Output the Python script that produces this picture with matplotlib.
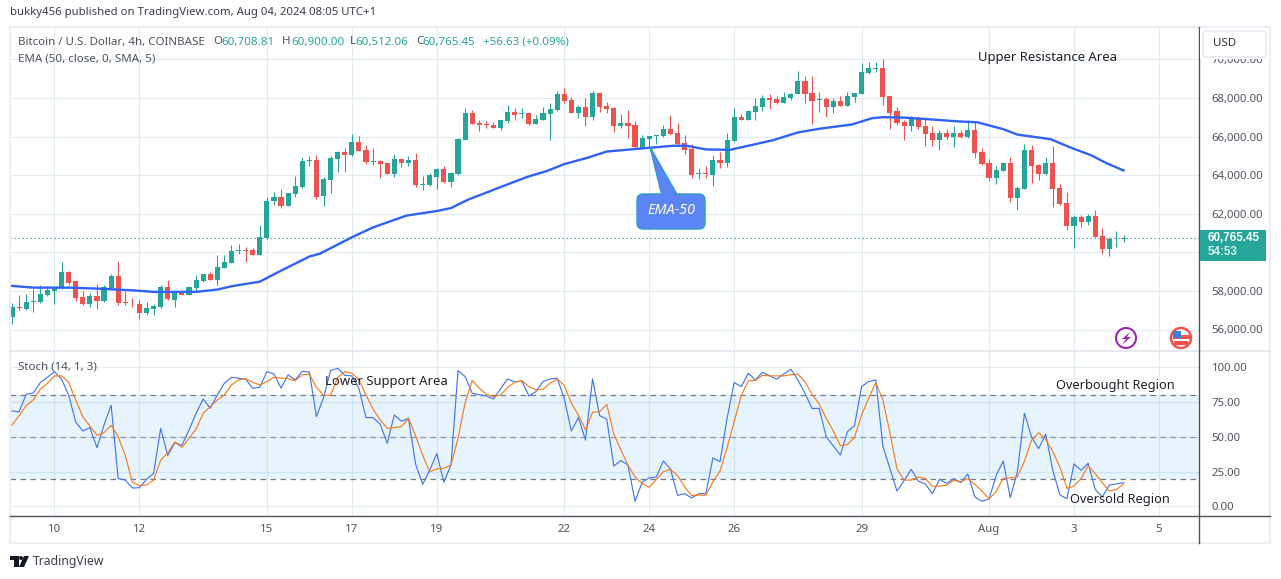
import matplotlib
matplotlib.use("Agg")
import matplotlib.pyplot as plt
from matplotlib.patches import Rectangle, FancyBboxPatch, Polygon, Circle
from matplotlib.transforms import Affine2D
import pandas as pd

W, H = 1281, 579
plt.rcParams['font.family'] = ['Noto Sans', 'DejaVu Sans']

GREEN = '#26a69a'
RED = '#ef5350'
GRID = '#e1ecf2'
TXT = '#50535e'

# open, high, low, close in thousands of USD, 4h bars from Jul 9 2024
ohlc = [
    (56.65,57.35,56.28,57.14),(57.15,57.78,57.03,57.10),(57.05,57.86,56.99,57.41),(57.41,58.12,56.90,57.47),
    (57.41,58.28,57.35,57.83),(57.78,58.24,57.76,58.03),(58.00,58.20,57.33,58.17),(58.17,59.48,58.12,58.97),
    (58.97,59.02,58.31,58.41),(58.50,58.55,57.48,57.64),(57.67,57.97,57.29,57.31),(57.31,57.90,57.17,57.72),
    (57.72,58.35,57.07,57.50),(57.47,58.29,57.45,58.20),(58.13,58.88,58.10,58.77),(58.77,59.53,57.27,57.36),
    (57.43,58.00,57.25,57.38),(57.34,57.62,57.14,57.31),(57.34,57.55,56.55,56.84),(56.84,57.41,56.76,57.09),
    (57.07,57.31,56.74,57.21),(57.16,58.29,57.12,58.19),(58.19,58.55,57.52,57.57),(57.53,57.95,57.17,57.91),
    (57.91,58.00,57.79,57.79),(57.81,58.24,57.79,58.19),(58.17,58.83,58.00,58.57),(58.52,58.90,58.48,58.88),
    (58.88,58.98,58.57,58.57),(58.57,59.86,58.31,59.24),(59.19,59.86,59.19,59.50),(59.45,60.38,59.45,60.07),
    (60.08,60.43,59.91,60.12),(60.12,60.28,59.50,60.09),(60.12,60.21,59.86,59.86),(59.86,61.41,59.86,60.79),
    (60.72,62.85,60.67,62.66),(62.66,63.12,62.45,62.86),(62.86,63.28,62.31,62.40),(62.40,63.07,62.40,63.07),
    (63.02,63.95,62.88,63.43),(63.38,64.93,63.33,64.72),(64.72,64.98,64.47,64.78),(64.78,65.03,62.76,62.86),
    (62.91,63.90,62.40,63.79),(63.74,64.98,63.07,64.88),(64.83,65.24,64.16,65.19),(65.19,65.40,64.16,65.03),
    (65.03,66.12,64.98,65.71),(65.71,66.02,65.24,65.24),(65.29,65.55,64.57,64.67),(64.67,65.40,64.52,64.71),
    (64.72,64.78,63.84,64.57),(64.62,64.67,64.05,64.05),(64.05,65.09,63.90,64.83),(64.83,64.88,64.41,64.62),
    (64.62,64.98,64.47,64.78),(64.78,65.14,63.38,63.48),(63.48,63.95,63.22,63.53),(63.48,64.09,63.43,64.00),
    (63.90,64.36,63.28,64.31),(64.31,64.47,63.59,63.64),(63.64,64.16,63.38,64.10),(64.05,65.91,64.00,65.86),
    (65.81,67.47,65.81,67.21),(67.21,67.36,66.64,66.64),(66.69,66.84,66.28,66.59),(66.64,66.79,66.43,66.59),
    (66.59,66.74,66.43,66.43),(66.43,66.84,66.33,66.84),(66.79,67.62,66.69,67.26),(67.26,67.47,66.84,67.10),
    (67.17,67.47,66.95,67.21),(67.21,67.26,66.59,66.64),(66.64,67.10,66.64,66.90),(66.84,67.52,66.84,67.21),
    (67.16,67.72,65.81,67.41),(67.36,68.34,67.31,68.19),(68.19,68.50,67.72,67.83),(67.88,68.03,67.21,67.21),
    (67.21,67.62,66.95,67.52),(67.52,67.98,66.53,67.00),(67.00,68.34,66.84,68.24),(68.24,68.29,67.26,67.52),
    (67.57,67.78,67.21,67.41),(67.47,67.52,66.22,66.53),(66.53,67.16,66.43,66.69),(66.69,67.36,65.91,66.53),
    (66.59,66.79,65.40,65.45),(65.43,66.07,65.43,65.91),(65.86,66.02,65.45,66.02),(66.03,66.07,65.60,66.07),
    (66.02,66.59,65.97,66.38),(66.38,67.10,66.07,66.12),(66.17,66.69,65.55,65.60),(65.66,66.07,65.09,65.29),
    (65.34,65.60,63.84,64.00),(64.07,64.36,63.79,64.10),(64.10,64.47,63.84,64.07),(64.00,65.03,63.43,64.78),
    (64.78,65.19,64.36,64.62),(64.62,66.17,64.41,65.81),(65.76,67.47,65.71,67.00),(67.00,67.16,66.84,66.84),
    (66.84,67.36,66.84,67.31),(67.26,67.98,66.84,67.57),(67.52,68.14,67.31,67.98),(67.98,68.19,67.41,67.88),
    (67.93,68.09,67.67,67.72),(67.72,68.29,67.72,68.03),(67.98,68.24,67.88,68.19),(68.19,69.38,68.19,68.86),
    (68.86,69.12,67.72,68.19),(68.24,69.12,66.64,67.83),(67.90,68.29,67.26,67.93),(67.93,68.03,67.00,67.52),
    (67.52,67.98,67.21,67.83),(67.83,68.09,67.57,67.57),(67.57,68.29,67.57,68.09),(68.03,68.24,67.78,68.24),
    (68.19,69.79,68.19,69.33),(69.28,69.84,69.22,69.53),(69.50,69.84,69.33,69.53),(69.53,70.00,67.62,68.03),
    (68.09,68.09,66.38,67.21),(67.31,67.52,66.59,66.69),(66.74,66.84,65.81,66.53),(66.53,67.05,66.28,66.90),
    (66.90,67.05,66.38,66.48),(66.53,66.90,65.50,66.12),(66.17,66.53,65.50,65.81),(65.81,66.33,65.29,66.17),
    (66.17,66.38,65.86,65.97),(65.97,66.53,65.45,66.17),(66.17,66.33,65.91,65.97),(65.97,66.84,65.91,66.33),
    (66.33,66.79,64.88,65.14),(65.19,65.40,64.52,64.57),(64.62,64.83,63.69,63.84),(63.84,64.47,63.53,64.26),
    (64.21,64.67,64.21,64.62),(64.62,64.93,62.60,62.81),(62.81,63.43,62.19,63.33),(63.28,65.60,63.28,65.29),
    (65.29,65.55,63.59,64.47),(64.52,64.57,63.74,64.05),(64.05,64.93,64.00,64.62),(64.62,65.50,62.34,63.28),
    (63.33,63.53,62.45,62.50),(62.55,63.12,61.15,61.36),(61.36,61.93,60.22,61.83),(61.83,61.93,61.31,61.57),
    (61.57,61.98,61.41,61.88),(61.88,62.19,60.79,60.79),(60.84,61.26,59.91,60.17),(60.17,60.79,59.81,60.69),
    (60.67,61.10,60.28,60.71),(60.709,60.90,60.512,60.765),
]
df = pd.DataFrame(ohlc, columns=['open', 'high', 'low', 'close']) * 1000

# EMA read at the bars where the curve bends
ema_bar = [0,3,8,12,17,20,26,29,31,35,38,42,43.5,48,51,55.7,60,62,64.3,69.5,72.8,75.6,78,81.3,84,88.9,
           93.4,95.3,98,101.4,104,107.5,111,114,118.6,121.5,123,126,130,133.7,136.3,140,142,146.7,149.5,152.4,154.7,157]
ema_val = [58.26,58.17,58.17,58.12,58.03,57.95,57.95,58.07,58.24,58.48,59.05,59.78,59.93,60.78,61.29,61.90,62.14,62.29,62.71,63.45,63.91,64.22,64.57,64.90,65.22,65.38,
           65.52,65.52,65.33,65.31,65.52,65.81,66.21,66.40,66.62,66.95,67.00,66.98,66.88,66.78,66.74,66.38,66.10,65.86,65.43,65.03,64.60,64.24]

stoch_k = [68.6,67.9,80.6,81.5,89,92.8,96.9,91.4,80.1,60.7,54.2,56.6,42.2,58.5,72.7,19.9,18.9,13.2,13.4,19.4,
           23.7,56.1,36.5,45.8,43.9,54.9,66.9,77.2,70.5,80.1,88.5,92.8,92.1,91.4,84.9,85.6,96.9,95.2,85.1,94.5,
           90.9,97.1,96.6,64.5,78.2,97.6,99.3,94.2,93.8,84.9,63.8,63.8,59.2,45.3,65.7,61.2,63.3,30.5,15.8,26.1,
           37.9,17.3,29.7,97.6,93.3,81.3,80.3,79.4,77.2,84.4,91.6,89.4,90.2,79.4,82.5,89.7,91.6,92.1,77.7,54.2,
           63.8,47.7,91.6,65.2,62.8,29,32.9,29.7,3.6,17.3,20.4,21.1,32.6,26.9,7.9,9.1,6,9.1,9.1,34.8,
           32.1,63.3,89,86.1,95.7,90.9,96.4,94,91.4,95.2,98.6,90.9,81.3,70.3,70.5,50.1,43.4,36.9,53.7,58,
           86.1,89.7,90.9,43.4,27.3,11,18.5,26.6,18.2,16.1,9.1,19.4,16.5,19.9,17,23.3,6.7,3.6,5.3,22.1,
           32.6,6.2,24.9,66.9,49.9,41.5,52,26.1,8.2,5.5,30.5,25.9,30.9,12.2,6.7,15.3,16.1,17]
stoch_d = [58.5,65.2,72.4,76.5,84.2,88.5,93.8,93.8,89.2,76.5,64.5,57.8,51.1,53,58.3,50.1,36.5,17.3,14.9,15.3,
           18.9,33.3,38.6,46.3,42.4,48.9,55.6,66.9,71.7,76.5,80.1,87.3,90.9,91.8,89.2,87.3,89.7,92.8,92.3,91.8,
           90.4,94.5,95.2,85.6,79.9,79.9,92.3,96.9,95.7,90.9,80.1,69.8,62.1,56.1,56.6,57.3,63.3,50.8,36.9,24.9,
           26.9,27.3,29.7,48.9,74.6,90.6,84.9,80.6,78.9,80.1,85.4,89.2,90.4,86.1,83.7,84.2,88.5,91.4,87.1,74.1,
           65.7,54.9,67.6,68.1,73.4,52,40.5,29.7,21.1,16.5,13.7,19.2,24.9,26.6,22.1,14.1,7.7,8.2,7.9,17.7,
           25.4,42.2,60.9,79.6,90.2,90.6,94.2,93.8,93.8,93.8,94.7,95,89.7,80.6,73.6,63.3,54.2,43.6,44.4,49.6,
           65.7,77.7,89,76.5,53,26.9,18.9,18.9,21.1,20.1,14.4,14.6,15.1,18.7,17.7,19.9,15.8,11,5.3,10.6,
           20.1,20.4,21.1,32.4,47.5,53,48.2,39.3,28.5,12.9,14.6,20.1,29.3,23.5,17,11,12.2,16.1]

day_ticks = [6, 18, 36, 48, 60, 78, 90, 102, 120, 138, 150, 162]
day_labels = ['10', '12', '15', '17', '19', '22', '24', '26', '29', 'Aug', '3', '5']

fig = plt.figure(figsize=(W / 100, H / 100), dpi=100, facecolor='white')
# pixel coordinates of the screenshot, y going down
px = Affine2D().scale(1, -1).translate(0, H)


def put(x, y, s, **kw):
    kw.setdefault('color', TXT)
    kw.setdefault('fontsize', 8.3)
    kw.setdefault('va', 'center')
    kw.setdefault('zorder', 20)
    return fig.text(x / W, 1 - y / H, s, **kw)


def pane(top, bottom):
    ax = fig.add_axes([10 / W, 1 - bottom / H, 1189 / W, (bottom - top) / H])
    ax.set_xlim((10 - 12) / 7.08, (1199 - 12) / 7.08)
    ax.yaxis.tick_right()
    ax.set_xticks(day_ticks)
    ax.grid(True, color=GRID, lw=0.85)
    ax.set_axisbelow(True)
    for s in ax.spines.values():
        s.set_visible(False)
    ax.tick_params(axis='y', length=0, pad=9, labelsize=8.2, labelcolor=TXT)
    ax.tick_params(axis='x', length=0)
    return ax


ax1 = pane(27, 351)
ax2 = pane(351, 516)

# main pane
ax1.set_ylim(60000 + (252.3 - 351) / 19.3 * 1000, 60000 + (252.3 - 27) / 19.3 * 1000)
prices = list(range(56000, 72000, 2000))
ax1.set_yticks(prices)
# 60,000 sits behind the last price tag
ax1.set_yticklabels(['' if p == 60000 else '{:,.2f}'.format(p) for p in prices])
ax1.set_xticklabels([])

colors = [GREEN if c >= o else RED for o, c in zip(df['open'], df['close'])]
ax1.vlines(df.index, df['low'], df['high'], color=colors, lw=0.8, zorder=3)
ax1.bar(df.index, (df['close'] - df['open']).abs(), bottom=df[['open', 'close']].min(axis=1),
        width=0.72, color=colors, lw=0, zorder=4)
ax1.plot(ema_bar, [v * 1000 for v in ema_val], color='#2f62f5', lw=1.7, zorder=5)
ax1.axhline(df['close'].iloc[-1], color=GREEN, lw=0.9, ls=(0, (1, 2.2)), zorder=2)

# stochastic pane
ax2.set_ylim(-6.95, 111.7)
ax2.set_yticks([0, 25, 50, 75, 100])
ax2.set_yticklabels(['0.00', '25.00', '50.00', '75.00', '100.00'])
ax2.set_xticklabels(day_labels)
ax2.tick_params(axis='x', pad=6, labelsize=8.2, labelcolor=TXT)
ax2.axhspan(20, 80, color='#2196f3', alpha=0.1, lw=0, zorder=1)
for lev, col in [(80, '#787b86'), (50, '#9598a1'), (20, '#787b86')]:
    ax2.axhline(lev, color=col, lw=0.9, ls=(0, (4.5, 3.5)), zorder=2)
ax2.plot(stoch_k, color='#4577f0', lw=0.85, zorder=4)
ax2.plot(stoch_d, color='#f57c20', lw=0.85, zorder=5)

# frame
fig.add_artist(Rectangle((9.5, 27), 1260.5, 516, transform=px, fill=False, ec='#eceef4', lw=1.6, zorder=10))
fig.add_artist(plt.Line2D([10, 1270], [351, 351], transform=px, color='#e4e6ec', lw=1.3, zorder=10))
fig.add_artist(plt.Line2D([10, 1270], [516, 516], transform=px, color='#50535e', lw=1, zorder=10))
fig.add_artist(plt.Line2D([1199, 1199], [27, 543], transform=px, color='#50535e', lw=1, zorder=10))

# header and legend
put(10, 13, 'bukky456 published on TradingView.com, Aug 04, 2024 08:05 UTC+1', color='#3c3f4a', fontsize=8.2)
put(18, 42, 'Bitcoin / U.S. Dollar, 4h, COINBASE', color=TXT)
for x, s, c in [(213, 'O', TXT), (221.5, '60,708.81', GREEN), (282, 'H', TXT), (291, '60,900.00', GREEN),
                (350, 'L', TXT), (355.5, '60,512.06', GREEN), (416, 'C', TXT), (422.5, '60,765.45', GREEN),
                (483, '+56.63 (+0.09%)', GREEN)]:
    put(x, 42, s, color=c)
put(18, 59, 'EMA (50, close, 0, SMA, 5)', color=TXT)
put(18, 367, 'Stoch (14, 1, 3)', color=TXT)

# notes on the chart
put(978, 57, 'Upper Resistance Area', color='#1f2128', fontsize=9.4)
put(325, 381, 'Lower Support Area', color='#1f2128', fontsize=9.4)
put(1056, 386, 'Overbought Region', color='#1f2128', fontsize=9.2)
put(1070, 499, 'Oversold Region', color='#1f2128', fontsize=9.2)

# EMA-50 callout
fig.add_artist(Polygon([(650, 147), (662, 196), (678, 196)], transform=px, fc='#5b84f5', ec='#2b9fc0', lw=1, zorder=11))
fig.add_artist(FancyBboxPatch((641, 198), 60, 27, boxstyle='round,pad=4,rounding_size=6', transform=px,
                              fc='#5b84f5', ec='#2b9fc0', lw=1, zorder=12))
fig.add_artist(Polygon([(651, 150), (663, 199), (677, 199)], transform=px, fc='#5b84f5', ec='none', zorder=13))
put(671, 211, 'EMA-50', color='white', style='italic', fontsize=10.4, ha='center')

# price tag and currency button
fig.add_artist(Rectangle((1199.5, 230), 66.5, 31, transform=px, fc=GREEN, ec='none', zorder=14))
put(1208, 238, '60,765.45', color='white', fontweight='bold', fontsize=8.4, family='Liberation Sans')
put(1208, 252, '54:53', color='#d4eeeb', fontweight='bold', fontsize=8.4, family='Liberation Sans')
fig.add_artist(Rectangle((1199.5, 28), 69, 30.5, transform=px, fc='white', ec='none', zorder=14))
fig.add_artist(FancyBboxPatch((1205, 33), 59, 22, boxstyle='round,pad=2,rounding_size=3', transform=px,
                              fc='white', ec='#e8eaf0', lw=1.2, zorder=15))
put(1213, 44, 'USD', color='#2f323c')

# pane icons
fig.add_artist(Circle((1126, 338), 10, transform=px, fc='white', ec='#9c27b0', lw=1.5, zorder=14))
fig.add_artist(Polygon([(1130, 332), (1122, 339), (1126, 339), (1122, 345), (1131, 337), (1127, 337)],
                       transform=px, fc='#9c27b0', ec='none', zorder=15))
fig.add_artist(Circle((1181, 338), 10, transform=px, fc='white', ec='#f0524f', lw=1.8, zorder=14))
fig.add_artist(Rectangle((1173, 335), 17, 3.5, transform=px, fc='#f0524f', ec='none', zorder=15))
fig.add_artist(Rectangle((1174, 341), 14, 3.5, transform=px, fc='#f0524f', ec='none', zorder=15))
fig.add_artist(Rectangle((1173, 331), 8, 7, transform=px, fc='#3d7fe0', ec='none', zorder=16))

# TradingView logo at the bottom
fig.add_artist(Polygon([(10, 556), (19, 556), (19, 567), (14, 567), (14, 560), (10, 560)], transform=px, fc='#131722', ec='none'))
fig.add_artist(Circle((21, 558), 2, transform=px, fc='#131722', ec='none'))
fig.add_artist(Polygon([(24, 556), (29, 556), (24, 567), (19, 567)], transform=px, fc='#131722', ec='none'))
put(33, 561, 'TradingView', color='#3c3f4a', fontsize=8.8)

plt.savefig('out.png', dpi=100)
